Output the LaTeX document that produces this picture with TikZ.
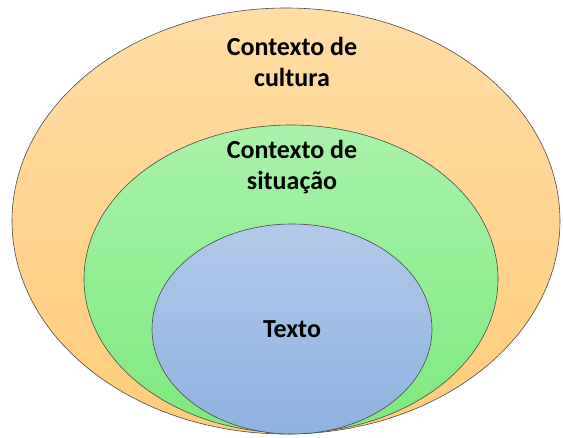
\documentclass[tikz,border=0pt]{standalone}
\usepackage{fontspec}
\setmainfont{Carlito}
\usetikzlibrary{shapes.geometric}
\definecolor{cultop}{HTML}{FFDDA6}
\definecolor{culbot}{HTML}{FFCC7A}
\definecolor{sittop}{HTML}{A8F2AA}
\definecolor{sitbot}{HTML}{7EE97E}
\definecolor{textop}{HTML}{B2CAEA}
\definecolor{texbot}{HTML}{8EB2E0}
\tikzset{
  ring/.style={ellipse, draw=black!70, line width=0.6pt, inner sep=0pt},
  lab/.style={font=\bfseries\fontsize{26}{31}\selectfont, align=center, text=black}
}

\begin{document}
\begin{tikzpicture}[x=1pt, y=1pt]

	\useasboundingbox (0,0) rectangle (563,437);

	% outer: culture
	\node[ring, minimum width=548pt, minimum height=426pt,
		top color=cultop, bottom color=culbot] (cultura) at (286,216) {};

	% middle: situation
	\node[ring, minimum width=414pt, minimum height=308pt,
		top color=sittop, bottom color=sitbot] (situacao) at (291,158) {};

	% inner: text
	\node[ring, minimum width=280pt, minimum height=210pt,
		top color=textop, bottom color=texbot] (texto) at (292,108) {};

	\node[lab] (labcultura) at (292,375) {Contexto de\\cultura};
	\node[lab] (labsituacao) at (292,270) {Contexto de\\situação};
	\node[lab] (labtexto) at (texto.center) {Texto};

\end{tikzpicture}
\end{document}
